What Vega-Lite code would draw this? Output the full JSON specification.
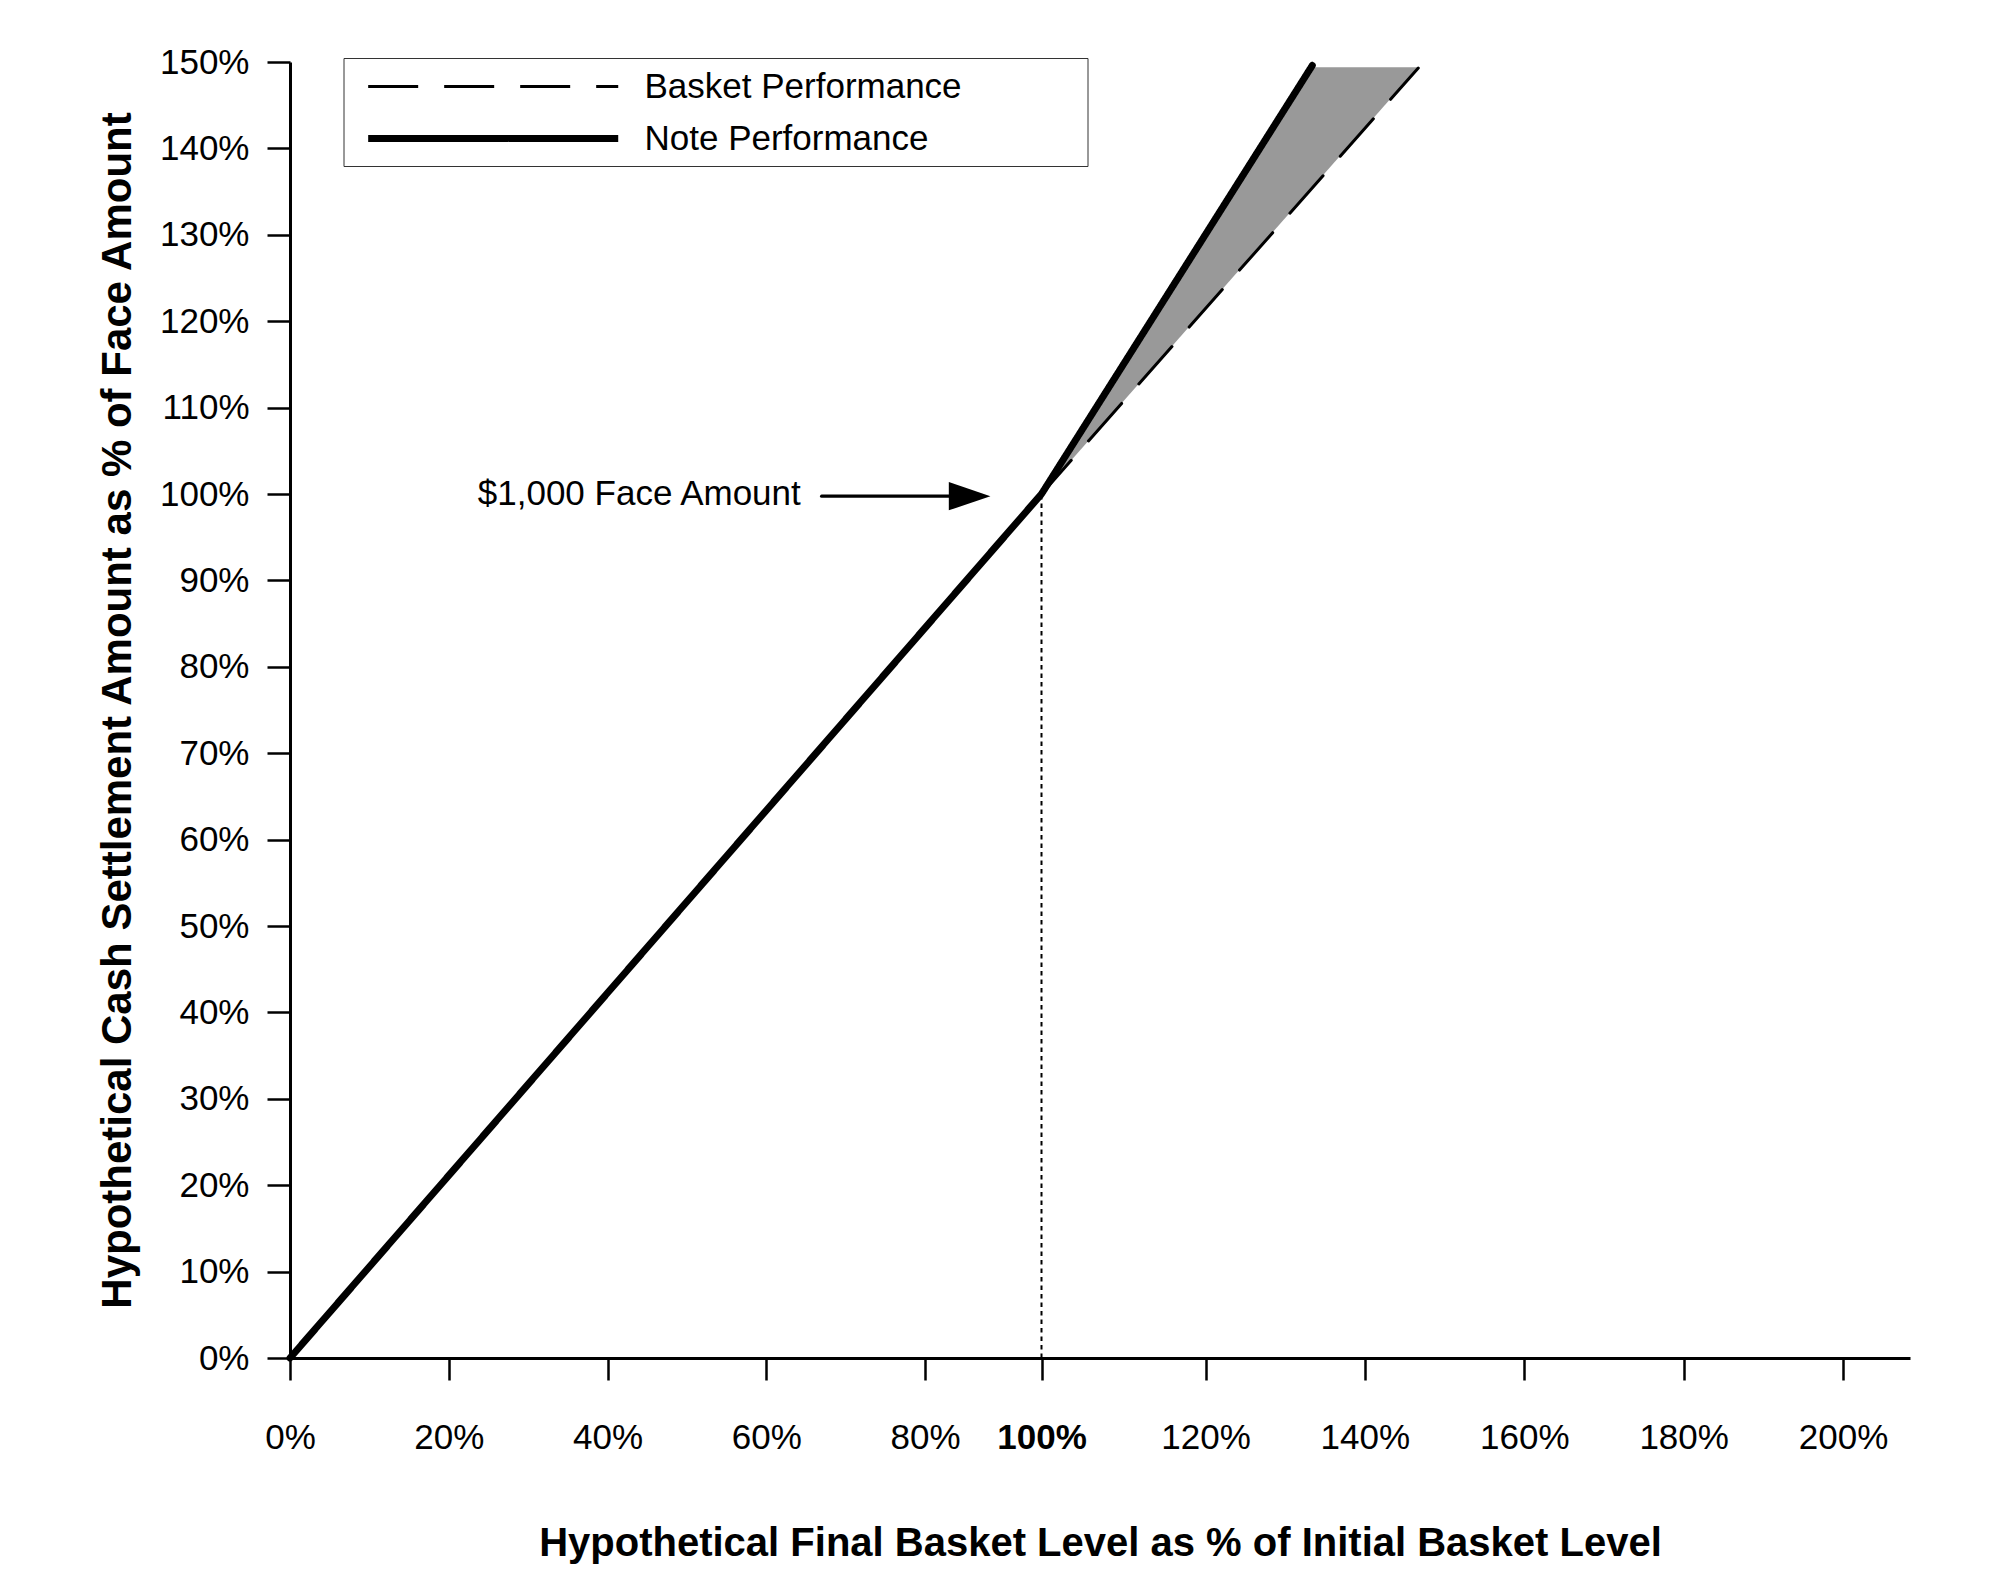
{
  "$schema": "https://vega.github.io/schema/vega-lite/v6.json",
  "width": 1620,
  "height": 1296,
  "autosize": {"type": "none"},
  "padding": {"left": 290, "top": 62, "right": 84, "bottom": 220},
  "background": "white",
  "config": {
    "font": "Liberation Sans",
    "view": {"stroke": null},
    "axis": {"grid": false, "domainColor": "black", "tickColor": "black", "labelColor": "black", "titleColor": "black"},
    "legend": {
      "orient": "none",
      "legendX": 53.5,
      "legendY": -4,
      "symbolType": "M-7,0H7",
      "symbolSize": 1276,
      "symbolOffset": 119.2,
      "labelOffset": 129.8,
      "padding": 9,
      "rowPadding": 12,
      "labelFontSize": 35,
      "labelColor": "black",
      "labelLimit": 900,
      "strokeColor": "#333333",
      "fillColor": "white"
    }
  },
  "datasets": {
    "lines": [
      {"series": "Basket Performance", "basket": 0, "value": 0},
      {"series": "Basket Performance", "basket": 1, "value": 1},
      {"series": "Basket Performance", "basket": 1.467, "value": 1.493},
      {"series": "Note Performance", "basket": 0, "value": 0},
      {"series": "Note Performance", "basket": 1, "value": 1},
      {"series": "Note Performance", "basket": 1.334, "value": 1.496}
    ],
    "shade": [
      {"value": 1, "noteX": 1, "basketX": 1},
      {"value": 1.494, "noteX": 1.3327, "basketX": 1.467}
    ],
    "face": [
      {"basket": 1, "value": 0, "value2": 1}
    ],
    "arrow": [
      {"basket": 0.6698, "basketEnd": 0.872, "value": 0.9975}
    ],
    "arrowHead": [
      {"basket": 0.8766, "value": 0.9975}
    ],
    "note": [
      {"basket": 0.6435, "value": 1.0, "label": "$1,000 Face Amount"}
    ]
  },
  "layer": [
    {
      "data": {"name": "shade"},
      "mark": {"type": "area", "orient": "horizontal", "color": "#999999"},
      "encoding": {
        "y": {"field": "value", "type": "quantitative"},
        "x": {"field": "noteX", "type": "quantitative"},
        "x2": {"field": "basketX"}
      }
    },
    {
      "data": {"name": "lines"},
      "mark": {"type": "line", "strokeCap": "round"},
      "encoding": {
        "x": {
          "field": "basket",
          "type": "quantitative",
          "title": "Hypothetical Final Basket Level as % of Initial Basket Level",
          "scale": {"domain": [0, 0.8, 1, 1.2, 2.084], "range": [0, 635, 751.5, 915.5, 1620], "nice": false, "zero": false},
          "axis": {
            "values": [0, 0.2, 0.4, 0.6, 0.8, 1, 1.2, 1.4, 1.6, 1.8, 2],
            "format": ".0%",
            "tickSize": 22,
            "tickWidth": 2.5,
            "domainWidth": 3,
            "labelFontSize": 35,
            "labelPadding": 40,
            "labelDx": 6,
            "labelFlush": false,
            "labelOverlap": false,
            "labelFontWeight": {"condition": {"test": "datum.value === 1", "value": "bold"}, "value": "normal"},
            "titleFontSize": 40,
            "titleFontWeight": "bold",
            "titlePadding": 68
          }
        },
        "y": {
          "field": "value",
          "type": "quantitative",
          "title": "Hypothetical Cash Settlement Amount as % of Face Amount",
          "scale": {"domain": [0, 1.5], "nice": false},
          "axis": {
            "values": [0, 0.1, 0.2, 0.3, 0.4, 0.5, 0.6, 0.7, 0.8, 0.9, 1, 1.1, 1.2, 1.3, 1.4, 1.5],
            "format": ".0%",
            "tickSize": 23,
            "tickWidth": 2.5,
            "domainWidth": 3,
            "labelFontSize": 35,
            "labelPadding": 18,
            "labelFlush": false,
            "labelOverlap": false,
            "titleFontSize": 42,
            "titleFontWeight": "bold",
            "titlePadding": 20
          }
        },
        "color": {
          "field": "series",
          "type": "nominal",
          "scale": {"domain": ["Basket Performance", "Note Performance"], "range": ["black", "black"]},
          "legend": {
            "title": null,
            "labelExpr": "datum.label + '\u00a0\u00a0\u00a0\u00a0\u00a0\u00a0\u00a0\u00a0\u00a0\u00a0\u00a0\u00a0\u200b'"
          }
        },
        "strokeDash": {
          "field": "series",
          "type": "nominal",
          "scale": {"domain": ["Basket Performance", "Note Performance"], "range": [[50, 26], [1, 0]]},
          "legend": {
            "title": null,
            "labelExpr": "datum.label + '\u00a0\u00a0\u00a0\u00a0\u00a0\u00a0\u00a0\u00a0\u00a0\u00a0\u00a0\u00a0\u200b'"
          }
        },
        "strokeWidth": {
          "field": "series",
          "type": "nominal",
          "scale": {"type": "point", "padding": 0, "domain": ["Basket Performance", "Note Performance"], "range": [3, 7]},
          "legend": {
            "title": null,
            "labelExpr": "datum.label + '\u00a0\u00a0\u00a0\u00a0\u00a0\u00a0\u00a0\u00a0\u00a0\u00a0\u00a0\u00a0\u200b'"
          }
        }
      }
    },
    {
      "data": {"name": "face"},
      "mark": {"type": "rule", "strokeDash": [4.5, 4], "strokeWidth": 2, "color": "black"},
      "encoding": {
        "x": {"field": "basket", "type": "quantitative"},
        "y": {"field": "value", "type": "quantitative"},
        "y2": {"field": "value2"}
      }
    },
    {
      "data": {"name": "arrow"},
      "mark": {"type": "rule", "strokeWidth": 3.3, "strokeCap": "round", "color": "black"},
      "encoding": {
        "x": {"field": "basket", "type": "quantitative"},
        "x2": {"field": "basketEnd"},
        "y": {"field": "value", "type": "quantitative"}
      }
    },
    {
      "data": {"name": "arrowHead"},
      "mark": {"type": "point", "shape": "M1,0L-1,-0.683L-1,0.683Z", "filled": true, "size": 1731, "color": "black", "opacity": 1, "strokeWidth": 0},
      "encoding": {
        "x": {"field": "basket", "type": "quantitative"},
        "y": {"field": "value", "type": "quantitative"}
      }
    },
    {
      "data": {"name": "note"},
      "mark": {"type": "text", "align": "right", "baseline": "middle", "fontSize": 35, "color": "black"},
      "encoding": {
        "x": {"field": "basket", "type": "quantitative"},
        "y": {"field": "value", "type": "quantitative"},
        "text": {"field": "label"}
      }
    }
  ]
}
